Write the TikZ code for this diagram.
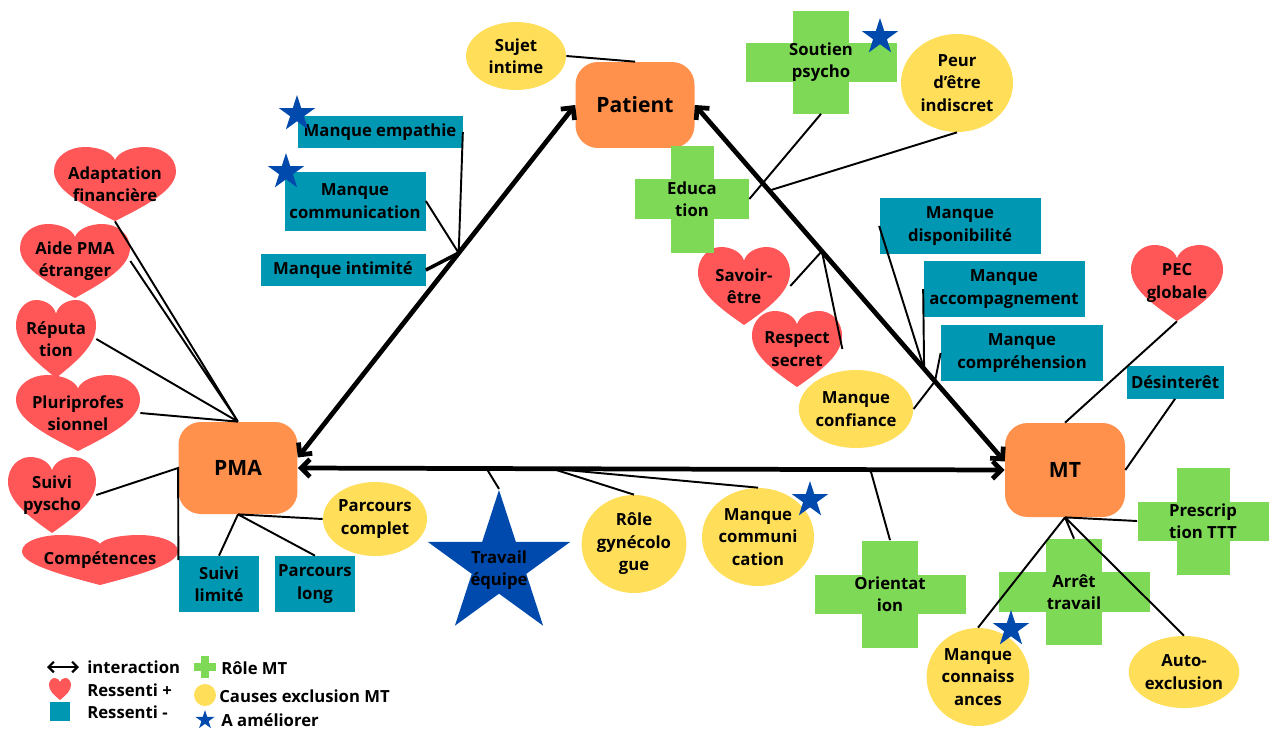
\documentclass[tikz,border=0pt]{standalone}
\usepackage{fontspec}
\setmainfont{Open Sans}
\usetikzlibrary{arrows.meta}
\usetikzlibrary{shapes.geometric}

\definecolor{orangepole}{HTML}{FF914D}
\definecolor{bleucanard}{HTML}{0097B2}
\definecolor{rougecoeur}{HTML}{FF5757}
\definecolor{jaune}{HTML}{FFDE59}
\definecolor{vert}{HTML}{7ED957}
\definecolor{bleuetoile}{HTML}{004AAD}

\begin{document}
\begin{tikzpicture}[
    x=0.02cm, y=-0.02cm,
    every node/.style={
      font=\fontsize{9.5}{12.8}\selectfont\bfseries,
      align=center,
      inner sep=0pt
    },
    pole/.style={rectangle, rounded corners=0.45cm, fill=orangepole,
      font=\fontsize{12}{14}\selectfont\bfseries},
    ressentimoins/.style={rectangle, fill=bleucanard},
    cause/.style={ellipse, fill=jaune},
    etoile/.style={star, star points=5, star point ratio=2.618,
      fill=bleuetoile, minimum size=0.76cm},
    lien/.style={line width=1.1pt},
    fleche/.style={{Straight Barb[length=5pt,width=10pt]}-{Straight Barb[length=5pt,width=10pt]},
      line width=2.7pt},
    ]

    \useasboundingbox (0,0) rectangle (1270,731);

    % les trois poles
    \node[pole, minimum width=2.38cm, minimum height=1.72cm] (patient) at (635,105) {Patient};
    \node[pole, minimum width=2.38cm, minimum height=1.84cm] (pma) at (238,468) {PMA};
    \node[pole, minimum width=2.40cm, minimum height=1.88cm] (mt) at (1065,470) {MT};

    % ressenti +
    \foreach \nom/\cx/\cy/\lx/\ly/\texte in {
      adapt/115/184/61/37/{Adaptation\\financière},
      aide/75/261/55/37/{Aide PMA\\étranger},
      rep/56/339/40/39/{Réputa\\tion},
      pluri/78/413/62/38/{Pluriprofes\\sionnel},
      psy/52/495/44/38/{Suivi\\pyscho},
      compet/100/560/78/25/{Compétences},
      savoir/744/286/46/39/{Savoir-\\être},
      respect/797/349/45/38/{Respect\\secret},
      pec/1177/283/46/38/{PEC\\globale},
      leg2/60/689/11/11/{}}{
      \fill[rougecoeur, shift={(\cx,\cy)}, xscale=\lx, yscale=\ly]
        (0,1) .. controls (-0.55,0.55) and (-1,0.15) .. (-1,-0.35)
        .. controls (-1,-0.75) and (-0.75,-1) .. (-0.5,-1)
        .. controls (-0.25,-1) and (-0.05,-0.85) .. (0,-0.65)
        .. controls (0.05,-0.85) and (0.25,-1) .. (0.5,-1)
        .. controls (0.75,-1) and (1,-0.75) .. (1,-0.35)
        .. controls (1,0.15) and (0.55,0.55) .. (0,1) -- cycle;
      \node[minimum width={\lx*0.04cm}, minimum height={\ly*0.04cm}] (\nom) at (\cx,\cy) {\texte};
    }

    % ressenti -
    \foreach \nom/\cx/\cy/\lx/\ly/\texte in {
      empathie/380/132/165/32/{Manque empathie},
      commg/355/201/141/59/{Manque\\communication},
      intim/343/270/165/32/{Manque intimité},
      dispo/960/226/161/56/{Manque\\disponibilité},
      accomp/1004/289/161/56/{Manque\\accompagnement},
      compr/1022/353/162/56/{Manque\\compréhension},
      desint/1175/382/97/33/{Désinterêt},
      suivilim/219/584/80/56/{Suivi\\limité},
      parclong/315/584/80/56/{Parcours\\long},
      leg3/60/711/20/19/{}}{
      \node[ressentimoins, minimum width={\lx*0.02cm}, minimum height={\ly*0.02cm}] (\nom) at (\cx,\cy) {\texte};
    }

    % causes exclusion MT
    \foreach \nom/\cx/\cy/\lx/\ly/\texte in {
      sujet/516/56/100/68/{Sujet\\intime},
      peur/957/83/112/98/{Peur\\d’être\\indiscret},
      confiance/856/409/112/78/{Manque\\confiance},
      parccompl/375/519/102/74/{Parcours\\complet},
      gyneco/634/544/102/98/{Rôle\\gynécolo\\gue},
      commb/758/537/112/98/{Manque\\communi\\cation},
      connais/978/677/102/98/{Manque\\connaiss\\ances},
      autoex/1184/672/103/72/{Auto-\\exclusion},
      leg5/205/695/22/22/{}}{
      \node[cause, minimum width={\lx*0.02cm}, minimum height={\ly*0.02cm}] (\nom) at (\cx,\cy) {\texte};
    }

    % role MT
    \foreach \nom/\cx/\cy/\bw/\bh/\vw/\vh/\texte in {
      soutien/821/62/151/39/56/103/{Soutien\\psycho},
      educ/692/199/114/40/43/107/{Educa\\tion},
      orient/890/594/151/39/56/107/{Orientat\\ion},
      arret/1074/592/151/40/56/106/{Arrêt\\travail},
      prescr/1203/521/131/39/53/107/{Prescrip\\tion TTT},
      leg4/205/667/22/8/8/22/{}}{
      \fill[vert] ({\cx-\bw/2},{\cy-\bh/2}) rectangle +(\bw,\bh);
      \fill[vert] ({\cx-\vw/2},{\cy-\vh/2}) rectangle +(\vw,\vh);
      \node[minimum width={\bw*0.02cm}, minimum height={\vh*0.02cm}] (\nom) at (\cx,\cy) {\texte};
    }

    % travail equipe
    \node[etoile, minimum size=3cm] (equipe) at (499,565) {};
    \node (equipetxt) at (499,570) {Travail\\équipe};

    % interactions
    \draw[fleche] (pma.10) -- coordinate[pos=0.58] (jl) (patient.west);
    \draw[fleche] (patient.east)
      -- coordinate[pos=0.24] (jpeur) coordinate[pos=0.41] (jsav)
         coordinate[pos=0.74] (jdisp) coordinate[pos=0.775] (jconf) (mt.172);
    \draw[fleche] (pma.east)
      -- coordinate[pos=0.267] (jequipe) coordinate[pos=0.36] (jgyn)
         coordinate[pos=0.81] (jorient) (mt.west);

    \path[lien, draw]
    (adapt.south) -- (pma.north)
    (aide.east) -- (pma.north)
    (rep.east) -- (pma.north)
    (pluri.east) -- (pma.north)
    (psy.east) -- (pma.west) -- (compet.east)
    (pma.south) -- (suivilim.north)
    (pma.south) -- (parclong.north)
    (pma.south) -- (parccompl.west)
    (empathie.east) -- (jl)
    (commg.east) -- (jl)
    (sujet.east) -- (patient.north)
    (soutien.south) -- (educ.east)
    (peur.south) -- (jpeur)
    (savoir.east) -- (jsav) -- (respect.east)
    (dispo.west) -- (jdisp)
    (accomp.west) -- (jdisp)
    (compr.west) -- (jconf) -- (confiance.east)
    (jequipe) -- (equipe.north)
    (jgyn) -- (gyneco.north)
    (jgyn) -- (commb.north)
    (jorient) -- (orient.north)
    (pec.south) -- (mt.north)
    (desint.south) -- (mt.east)
    (mt.south) -- (prescr.west)
    (mt.south) -- (arret.north)
    (mt.south) -- (connais.north)
    (mt.south) -- (autoex.north)
    ;
    \draw[line width=2pt] (intim.east) -- (jl);

    % a ameliorer
    \node[etoile] (et1) at (297,114) {};
    \node[etoile] (et2) at (286,172) {};
    \node[etoile] (et3) at (880,37) {};
    \node[etoile] (et4) at (810,500) {};
    \node[etoile] (et5) at (1011,629) {};
    \node[etoile, minimum size=0.4cm] (leg6) at (205,720) {};

    % legende
    \coordinate (lega) at (47,667);
    \coordinate (legb) at (79,667);
    \draw[{Straight Barb[length=3pt,width=6pt]}-{Straight Barb[length=3pt,width=6pt]}, line width=1.3pt] (lega) -- (legb);
    \node[anchor=west] (legt1) at (87,667) {interaction};
    \node[anchor=west] (legt2) at (87,690) {Ressenti +};
    \node[anchor=west] (legt3) at (87,712) {Ressenti -};
    \node[anchor=west] (legt4) at (221,668) {Rôle MT};
    \node[anchor=west] (legt5) at (219,696) {Causes exclusion MT};
    \node[anchor=west] (legt6) at (221,720) {A améliorer};
  \end{tikzpicture}
\end{document}
